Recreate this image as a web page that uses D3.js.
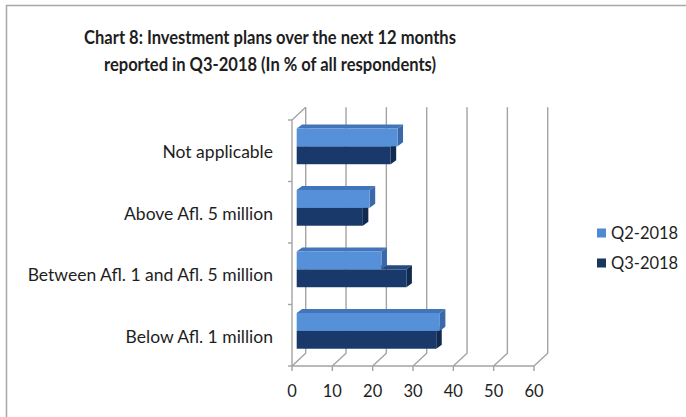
<!DOCTYPE html>
<html>
<head>
<meta charset="utf-8">
<script src="https://cdn.jsdelivr.net/npm/d3@7"></script>
<style>
  html, body { margin: 0; padding: 0; background: #ffffff; }
  svg { display: block; }
  text { font-family: Lato, "Open Sans", sans-serif; fill: #1e1e1e; }
</style>
</head>
<body>
<svg id="chart" width="686" height="417"></svg>
<script>
// Categories, top to bottom as listed on the axis
const categories = ["Not applicable", "Above Afl. 5 million", "Between Afl. 1 and Afl. 5 million", "Below Afl. 1 million"];
const seriesNames = ["Q2-2018", "Q3-2018"];
const q2Values = [25.0, 18.1, 21.0, 35.5];
const q3Values = [23.3, 16.4, 27.2, 34.6];
const xTicks = [0, 10, 20, 30, 40, 50, 60];
const titleLines = ["Chart 8: Investment plans over the next 12 months", "reported in Q3-2018 (In % of all respondents)"];

const svg = d3.select("#chart");

// Faces of each series: front, top, side
const palette = {
  "Q2-2018": { front: "#5690d8", top: "#4174b8", side: "#3a68a8", legend: "#4f89d4" },
  "Q3-2018": { front: "#19396a", top: "#244a80", side: "#112a50", legend: "#17375e" }
};

// Outer frame
svg.append("path")
  .attr("d", "M6.5,417 V5.5 H686")
  .attr("fill", "none").attr("stroke", "#a8a8a8").attr("stroke-width", 1.5);

// Title, slightly condensed horizontally
const title = svg.append("text")
  .attr("text-anchor", "middle")
  .attr("transform", "translate(270,0) scale(0.88,1)")
  .style("font-size", "18.8px").style("font-weight", "700");
titleLines.forEach((t, i) => {
  title.append("tspan").attr("x", 0).attr("y", 44 + i * 27).text(t);
});

// Plot geometry: front plane plus an oblique depth vector
const front = { left: 292, right: 534, top: 120, bottom: 366 };
const depth = { dx: 13.7, dy: -12.8 };
const barDepth = { dx: 5.5, dy: -4 };
const barShift = { dx: 4.7, dy: -4.4 };

const x = d3.scaleLinear().domain([0, 60]).range([front.left, front.right]);
const y = d3.scaleBand().domain(categories).range([front.top, front.bottom]);
const ySeries = d3.scaleBand().domain(seriesNames).range([0, y.bandwidth()]).paddingOuter(0.72);

const grid = svg.append("g").attr("fill", "none").attr("stroke", "#a3a3a3").attr("stroke-width", 1.4);

// Back wall gridlines and floor diagonals
xTicks.forEach(v => {
  const fx = x(v), bx = fx + depth.dx, by = front.bottom + depth.dy;
  grid.append("path").attr("d", `M${fx},${front.bottom} L${bx},${by} L${bx},${front.top + depth.dy}`);
});

// Floor front edge and side wall edges
grid.append("path").attr("d", `M${front.left},${front.bottom} H${front.right}`);
grid.append("path").attr("d", `M${front.left},${front.bottom} V${front.top} L${front.left + depth.dx},${front.top + depth.dy}`);

// Value axis ticks and labels
const xAxis = svg.append("g");
xTicks.forEach(v => {
  xAxis.append("line").attr("x1", x(v)).attr("x2", x(v))
    .attr("y1", front.bottom).attr("y2", front.bottom + 5)
    .attr("stroke", "#a3a3a3").attr("stroke-width", 1.4);
  xAxis.append("text").attr("x", x(v)).attr("y", 397)
    .attr("text-anchor", "middle").style("font-size", "16.5px").text(v);
});

// Category axis ticks and labels
const yAxis = svg.append("g");
const boundaries = categories.map(c => y(c)).concat([front.bottom]);
boundaries.forEach(b => {
  yAxis.append("line").attr("x1", front.left - 4).attr("x2", front.left)
    .attr("y1", b).attr("y2", b)
    .attr("stroke", "#a3a3a3").attr("stroke-width", 1.4);
});
categories.forEach(c => {
  yAxis.append("text").attr("x", 273).attr("y", y(c) + y.bandwidth() / 2 + 7.5)
    .attr("text-anchor", "end").style("font-size", "17.5px").text(c);
});

// 3D bars: Q3 (lower) first so the Q2 front face overlaps its top face
const bars = svg.append("g");
const data = [];
categories.forEach((c, i) => {
  data.push({ cat: c, s: "Q3-2018", v: q3Values[i] });
  data.push({ cat: c, s: "Q2-2018", v: q2Values[i] });
});

data.forEach(d => {
  const x0 = x(0) + barShift.dx;
  const x1 = x(d.v) + barShift.dx;
  const y0 = y(d.cat) + ySeries(d.s) + barShift.dy;
  const h = ySeries.bandwidth();
  const y1 = y0 + h;
  const col = palette[d.s];
  const g = bars.append("g");
  // top face
  g.append("path")
    .attr("d", `M${x0},${y0} L${x1},${y0} L${x1 + barDepth.dx},${y0 + barDepth.dy} L${x0 + barDepth.dx},${y0 + barDepth.dy} Z`)
    .attr("fill", col.top);
  // side (end) face
  g.append("path")
    .attr("d", `M${x1},${y0} L${x1 + barDepth.dx},${y0 + barDepth.dy} L${x1 + barDepth.dx},${y1 + barDepth.dy} L${x1},${y1} Z`)
    .attr("fill", col.side);
  // front face
  g.append("rect").attr("x", x0).attr("y", y0).attr("width", x1 - x0).attr("height", h)
    .attr("fill", col.front);
});

// Legend
const legend = svg.append("g");
seriesNames.forEach((s, i) => {
  const ly = 233 + i * 30;
  legend.append("rect").attr("x", 597).attr("y", ly - 4.5).attr("width", 9).attr("height", 9)
    .attr("fill", palette[s].legend);
  legend.append("text").attr("x", 611).attr("y", ly + 6)
    .style("font-size", "16.5px").text(s);
});
</script>
</body>
</html>
